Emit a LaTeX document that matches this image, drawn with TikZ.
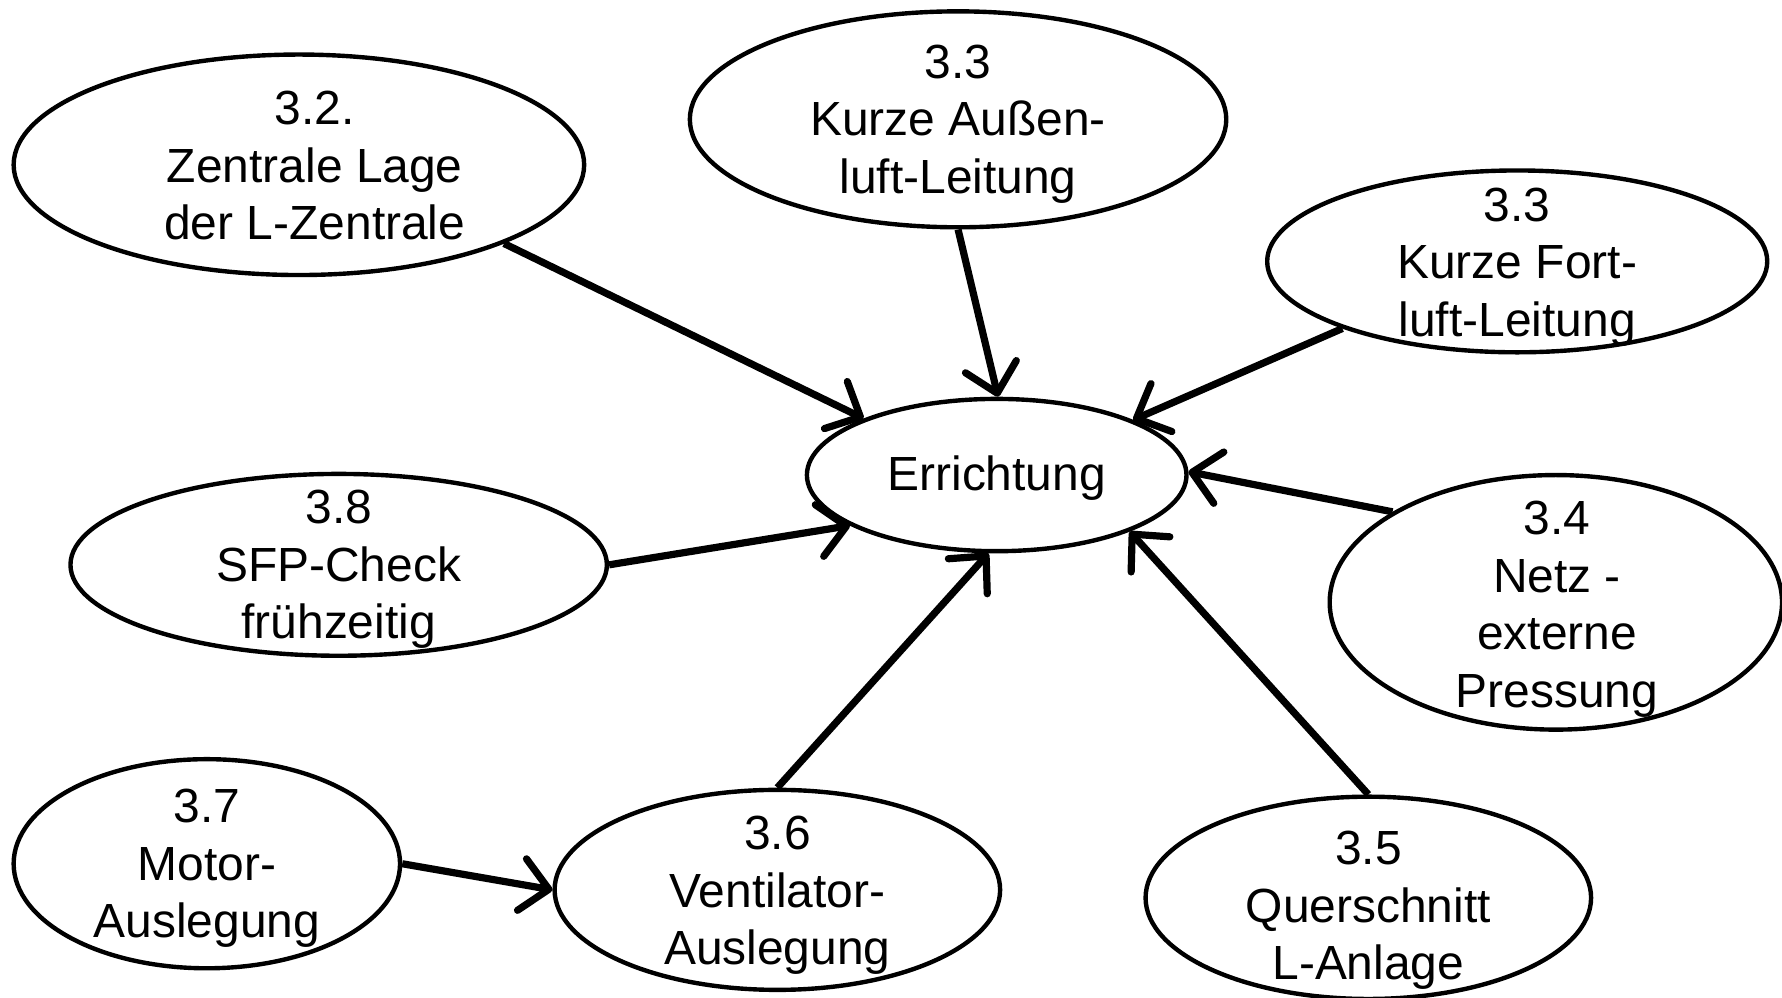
\documentclass[tikz,border=0pt]{standalone}
\usepackage{fontspec}
\setmainfont{Liberation Sans}
\usepackage{tikz}
\usetikzlibrary{arrows.meta,shapes.geometric}
\tikzstyle{oval} = [ellipse, draw=black, line width=1.1pt, inner sep=0pt, fill=none]
\tikzstyle{txt} = [align=center, inner sep=0pt, font=\fontsize{12pt}{14.4pt}\selectfont]
\tikzstyle{pfeil} = [line width=1.8pt, -{Straight Barb[length=0.24cm, width=0.46cm, round]}]

\begin{document}
\begin{tikzpicture}
\useasboundingbox (0,0) rectangle (15.68,-8.78);
% Ellipsen
\node [oval, minimum width=3.34cm, minimum height=1.34cm] (err) at (8.77,-4.18) {};
\node [oval, minimum width=5.02cm, minimum height=1.94cm] (lage) at (2.63,-1.45) {};
\node [oval, minimum width=4.72cm, minimum height=1.90cm] (aul) at (8.43,-1.05) {};
\node [oval, minimum width=4.40cm, minimum height=1.60cm] (fol) at (13.35,-2.30) {};
\node [oval, minimum width=4.72cm, minimum height=1.60cm] (sfp) at (2.98,-4.97) {};
\node [oval, minimum width=3.98cm, minimum height=2.24cm] (netz) at (13.69,-5.30) {};
\node [oval, minimum width=3.40cm, minimum height=1.84cm] (motor) at (1.82,-7.60) {};
\node [oval, minimum width=3.92cm, minimum height=1.76cm] (vent) at (6.84,-7.83) {};
\node [oval, minimum width=3.92cm, minimum height=1.78cm] (quer) at (12.04,-7.90) {};
% Texte
\node [txt] (t_err) at (8.77,-4.21) {Errichtung};
\node [txt] (t_lage) at (2.77,-1.46) {3.2.\\Zentrale Lage\\der L-Zentrale};
\node [txt] (t_aul) at (8.43,-1.09) {3.3\\Kurze Außen-\\luft-Leitung};
\node [txt] (t_fol) at (13.35,-2.35) {3.3\\Kurze Fort-\\luft-Leitung};
\node [txt] (t_sfp) at (2.98,-5.01) {3.8\\SFP-Check\\frühzeitig};
\node [txt] (t_netz) at (13.70,-5.36) {3.4\\Netz -\\externe\\Pressung};
\node [txt] (t_motor) at (1.82,-7.64) {3.7\\Motor-\\Auslegung};
\node [txt] (t_vent) at (6.84,-7.88) {3.6\\Ventilator-\\Auslegung};
\node [txt] (t_quer) at (12.04,-8.01) {3.5\\Querschnitt\\L-Anlage};
% Pfeile
\draw [pfeil] (lage.-21) -- (err.157);
\draw [pfeil] (aul.-90) -- (err.89);
\draw [pfeil] (fol.201) -- (err.22);
\draw [pfeil] (sfp.0) -- (err.199);
\draw [pfeil] (netz.151) -- (err.1);
\draw [pfeil] (vent.90) -- (err.-96);
\draw [pfeil] (quer.90) -- (err.-23);
\draw [pfeil] (motor.0) -- (vent.180);
\end{tikzpicture}
\end{document}
